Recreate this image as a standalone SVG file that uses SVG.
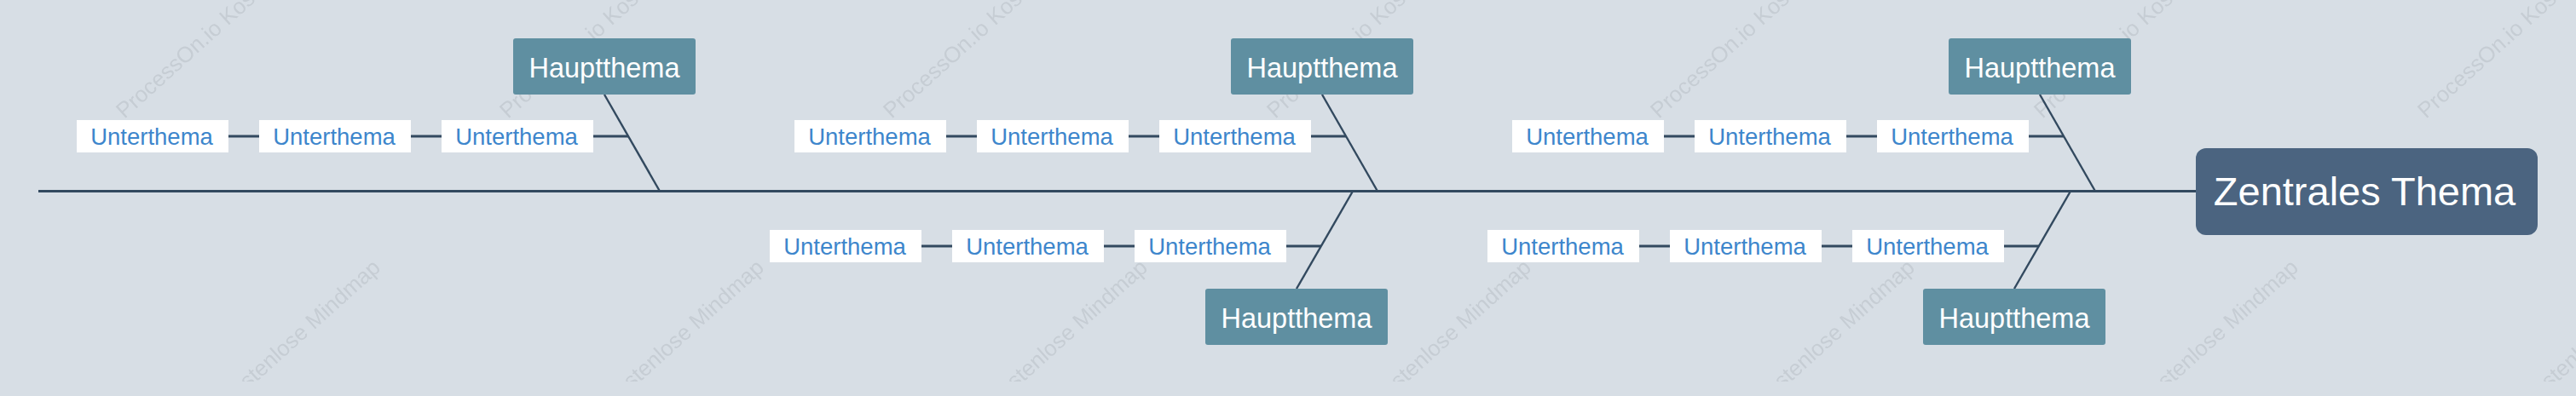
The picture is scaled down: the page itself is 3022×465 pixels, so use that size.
<svg xmlns="http://www.w3.org/2000/svg" width="3022" height="465" viewBox="0 0 3022 465">
<style>
.ln{stroke:#32495f;fill:none;stroke-linecap:butt}
.spine{stroke-width:3}
.diag{stroke-width:2.4}
.sub{stroke-width:3}
.main rect{fill:#5f8fa1}
.main text{fill:#ffffff;font-family:"Liberation Sans",Arial,sans-serif;font-size:32.5px;text-anchor:middle}
.leaf rect{fill:#ffffff}
.leaf text{fill:#3d86cc;font-family:"Liberation Sans",Arial,sans-serif;font-size:27.5px;text-anchor:middle}
.root rect{fill:#4b6480}
.root text{fill:#ffffff;font-family:"Liberation Sans",Arial,sans-serif;font-size:47px;text-anchor:middle}
.wm{fill:#c6cdd4;font-family:"Liberation Sans",Arial,sans-serif;font-size:26px}
</style>
<defs>
<pattern id="wmp" patternUnits="userSpaceOnUse" x="20" y="0" width="450" height="465">
<svg x="0" y="0" width="450" height="448" overflow="hidden">
<text class="wm" x="126" y="140" transform="rotate(-42 126 140)">ProcessOn.io Kostenlose Mindmap</text>
<text class="wm" x="126" y="588" transform="rotate(-42 126 588)">ProcessOn.io Kostenlose Mindmap</text>
</svg>
</pattern>
</defs>
<rect x="0" y="0" width="3022" height="465" fill="#d7dee5"/>
<rect x="0" y="0" width="3022" height="465" fill="url(#wmp)"/>

<g id="connectors">
<line class="ln spine" x1="45" y1="224.5" x2="2576" y2="224.5"/>
<line class="ln diag" x1="709" y1="111" x2="774" y2="224.5"/>
<line class="ln diag" x1="1551" y1="111" x2="1616" y2="224.5"/>
<line class="ln diag" x1="2393" y1="111" x2="2458" y2="224.5"/>
<line class="ln diag" x1="1521" y1="339" x2="1587" y2="224.5"/>
<line class="ln diag" x1="2363" y1="339" x2="2429" y2="224.5"/>
<path class="ln sub" d="M268 160H304M482 160H518M696 160H737"/>
<path class="ln sub" d="M1110 160H1146M1324 160H1360M1538 160H1579"/>
<path class="ln sub" d="M1952 160H1988M2166 160H2202M2380 160H2421"/>
<path class="ln sub" d="M1081 289H1117M1295 289H1331M1509 289H1550"/>
<path class="ln sub" d="M1923 289H1959M2137 289H2173M2351 289H2392"/>
</g>

<g id="root" class="root"><rect x="2576" y="174" width="401" height="102" rx="12"/><text x="2774" y="241">Zentrales Thema</text></g>

<g id="main1" class="main"><rect x="602" y="45" width="214" height="66" rx="3"/><text x="709" y="90.5">Hauptthema</text></g>
<g id="main2" class="main"><rect x="1444" y="45" width="214" height="66" rx="3"/><text x="1551" y="90.5">Hauptthema</text></g>
<g id="main3" class="main"><rect x="2286" y="45" width="214" height="66" rx="3"/><text x="2393" y="90.5">Hauptthema</text></g>
<g id="main4" class="main"><rect x="1414" y="339" width="214" height="66" rx="3"/><text x="1521" y="384.5">Hauptthema</text></g>
<g id="main5" class="main"><rect x="2256" y="339" width="214" height="66" rx="3"/><text x="2363" y="384.5">Hauptthema</text></g>

<g id="sub1a" class="leaf"><rect x="90" y="141" width="178" height="38"/><text x="178" y="170">Unterthema</text></g>
<g id="sub1b" class="leaf"><rect x="304" y="141" width="178" height="38"/><text x="392" y="170">Unterthema</text></g>
<g id="sub1c" class="leaf"><rect x="518" y="141" width="178" height="38"/><text x="606" y="170">Unterthema</text></g>
<g id="sub2a" class="leaf"><rect x="932" y="141" width="178" height="38"/><text x="1020" y="170">Unterthema</text></g>
<g id="sub2b" class="leaf"><rect x="1146" y="141" width="178" height="38"/><text x="1234" y="170">Unterthema</text></g>
<g id="sub2c" class="leaf"><rect x="1360" y="141" width="178" height="38"/><text x="1448" y="170">Unterthema</text></g>
<g id="sub3a" class="leaf"><rect x="1774" y="141" width="178" height="38"/><text x="1862" y="170">Unterthema</text></g>
<g id="sub3b" class="leaf"><rect x="1988" y="141" width="178" height="38"/><text x="2076" y="170">Unterthema</text></g>
<g id="sub3c" class="leaf"><rect x="2202" y="141" width="178" height="38"/><text x="2290" y="170">Unterthema</text></g>
<g id="sub4a" class="leaf"><rect x="903" y="270" width="178" height="38"/><text x="991" y="299">Unterthema</text></g>
<g id="sub4b" class="leaf"><rect x="1117" y="270" width="178" height="38"/><text x="1205" y="299">Unterthema</text></g>
<g id="sub4c" class="leaf"><rect x="1331" y="270" width="178" height="38"/><text x="1419" y="299">Unterthema</text></g>
<g id="sub5a" class="leaf"><rect x="1745" y="270" width="178" height="38"/><text x="1833" y="299">Unterthema</text></g>
<g id="sub5b" class="leaf"><rect x="1959" y="270" width="178" height="38"/><text x="2047" y="299">Unterthema</text></g>
<g id="sub5c" class="leaf"><rect x="2173" y="270" width="178" height="38"/><text x="2261" y="299">Unterthema</text></g>
</svg>
